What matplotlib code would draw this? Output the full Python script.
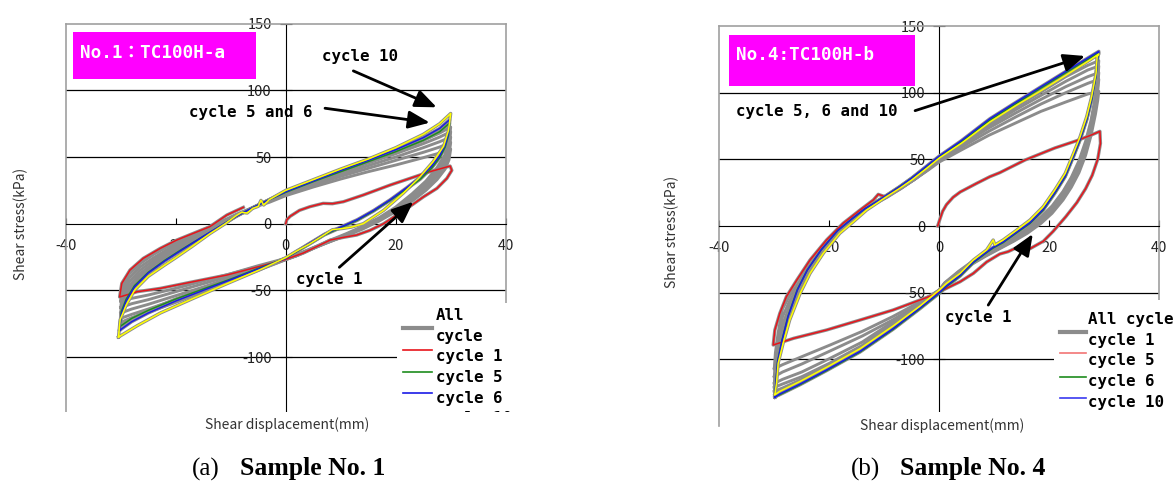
import matplotlib
matplotlib.use("Agg")
import matplotlib.pyplot as plt
from matplotlib.patches import Rectangle
from matplotlib.lines import Line2D

W, H = 1175, 483

# ---------------- (a) Sample No. 1 : TC100H-a ----------------
# gray "All cycle" loops share the same displacement stations
A_UP_X = [-30, -29.7, -28.5, -26.5, -24, -21, -18, -15, -12, -9, -6, -3, 0, 5, 10, 15, 20, 25, 28, 30]
A_LO_X = [30, 29.7, 29, 27.5, 25.5, 23, 20, 17, 14, 11, 8, 5, 2, 0, -5, -10, -15, -20, -25, -28, -30]
a_gray_up = [
    [-58, -48, -38, -30, -23, -16, -10, -4.5, 1, 7, 12, 16, 21, 27.5, 33.5, 39, 44, 49.5, 53, 56],
    [-63, -52, -41, -32.5, -25.5, -18, -11.5, -5.5, 0.5, 6.5, 12, 17, 22, 29, 35.5, 41.5, 47.5, 53.5, 57.5, 61],
    [-67, -55, -44, -35, -27.5, -19.5, -12.5, -6.5, 0, 6, 12, 17.5, 22.5, 30, 37, 43.5, 50, 57, 61.5, 65],
    [-71, -58.5, -47, -37.5, -29.5, -21, -14, -7.5, -0.5, 6, 12, 18, 23, 31, 38.5, 45.5, 52.5, 60, 65, 69],
    [-74, -61.5, -49.5, -39.5, -31, -22.5, -15, -8, -1, 5.5, 12, 18, 23.5, 31.5, 39.5, 47, 54.5, 62.5, 68, 72.5],
]
a_gray_lo = [
    [56, 48, 41, 33, 25, 17, 9, 2, -4, -9, -13.5, -18, -23, -26, -31.5, -37.5, -43, -48.5, -53.5, -56, -58],
    [61, 52, 44, 35.5, 27, 18.5, 10, 3, -3.5, -8.5, -13.5, -18.5, -23.5, -26.5, -32.5, -39, -45, -51, -57, -60, -63],
    [65, 55, 46.5, 37.5, 28.5, 19.5, 10.5, 3.5, -3, -8.5, -13.5, -18.5, -24, -26.5, -33.5, -40.5, -47.5, -54, -60.5, -64, -67],
    [69, 58.5, 49.5, 40, 30.5, 21, 11.5, 4, -2.5, -8, -13, -18.5, -24, -27, -34.5, -42, -49.5, -57, -64, -68, -71],
    [72.5, 61.5, 52, 42, 32, 22.5, 12.5, 4.5, -2, -7.5, -12.5, -18, -24, -27, -35, -43, -51, -59, -66.5, -70.5, -74],
]
a_c1_x = [0, 0.2, 0.8, 2.5, 4.4, 6.8, 8.5, 10.5, 14.1, 19, 22.6, 26.2, 29.9,
          30.2, 29.3, 27.5, 25, 22.6, 20.2, 17.8, 15.3, 12.9, 10.5, 8.1, 5.6, 3.2, 0, -4.7, -10.7, -16.8, -22.8, -27, -30.2,
          -29.8, -28.3, -25.9, -22.8, -19.8, -16.8, -13.8, -10.7, -7.7]
a_c1_y = [0, 3, 5.5, 10, 12.75, 15.25, 15, 16.5, 21.5, 29, 34, 39, 43.25,
          40, 34, 26.5, 20, 13, 6.5, 0, -5, -8.5, -10.25, -12.25, -17.25, -22, -26.75, -32, -38.5, -43.5, -48.5, -51, -55,
          -44.75, -34.75, -26, -18.5, -12.25, -7.25, -2.25, 6.5, 12.25]
a_c5_x = [-30.1, -29.9, -29, -27.5, -25, -22, -19, -15, -12, -9, -6, -3, 0, 5, 10, 15, 20, 25, 28, 29.8,
          29.6, 29, 28, 26.5, 24.5, 22, 19, 16, 13, 10, 7, 4, 0, -5, -10, -15, -20, -25, -28, -30.1]
a_c5_y = [-77, -66, -56.5, -46.5, -36.5, -27.5, -19.5, -9.5, -2, 5.5, 12, 18, 23.5, 31.5, 39, 46.5, 54, 62.5, 69, 75.5,
          66, 57.5, 49.5, 41.5, 33.5, 26, 17.5, 9.5, 2.5, -3, -8.5, -16, -26, -33.5, -41.5, -49, -56.5, -65, -71, -77]
a_c6_x = [-30.2, -29.9, -29, -27.5, -25, -22, -19, -15, -12, -9, -6, -3, 0, 5, 10, 15, 20, 25, 28, 29.8,
          29.6, 29, 28, 26.5, 24.5, 22, 19, 16, 13, 10, 7, 4, 0, -5, -10, -15, -20, -25, -28, -30.2]
a_c6_y = [-80, -68, -58, -47.5, -37, -28, -20, -9.5, -2, 5.5, 12, 18, 24, 32, 40, 47.5, 55.5, 64.5, 71.5, 78,
          68, 59, 51, 43, 35, 27, 18, 10, 3, -2.5, -8, -15.5, -26, -34, -42, -50, -58, -67, -73.5, -80]
a_c10_x = [-30.4, -30.1, -29, -27.5, -25, -22, -19.8, -17, -13.8, -11, -9, -8, -7, -6, -5, -4.5, -4, -3, -1.5, 0,
           5, 10, 15, 20, 25, 28, 30,
           29.6, 28.7, 26.8, 24.4, 21.4, 17.8, 14.1, 12, 10.5, 8.5, 7.5, 4.4, 2, 0, -4.7, -10.7, -16.8, -22.8, -27, -30.4]
a_c10_y = [-85, -72, -61, -50, -39.5, -31, -25, -17, -7.5, 0, 6, 8.5, 8, 11.5, 13, 17.5, 14, 18, 21.5, 25,
           33, 41, 48.5, 57, 67, 75, 82.7,
           70, 58, 46.5, 35, 23, 10, 0, -2.5, -3.5, -4.5, -7, -15, -20.5, -25.5, -34.5, -45, -56, -67, -76.5, -85]

# ---------------- (b) Sample No. 4 : TC100H-b ----------------
B_UP_X = [-30, -29.8, -29.3, -28.5, -27.3, -25.5, -23.5, -21, -18, -15, -12, -9.5, -7, -4.5, -2, 0, 4, 9, 14, 18.5, 23, 27, 29]
B_LO_X = [29, 28.8, 28.4, 27.6, 26.6, 25.4, 24, 22.5, 20.5, 18.5, 16, 13.5, 11, 8.5, 6, 3.5, 1, 0, -4, -8.5, -14, -20, -25, -28.5, -30]
b_gray_up = [
    [-107, -95, -80, -62, -53, -42, -27, -14, -2, 9, 17.5, 22.5, 28.5, 35, 42, 48, 57, 68, 77.5, 86, 93, 99, 101],
    [-113, -102, -87, -68, -57, -44, -29, -15.5, -2.5, 8.5, 17, 22.5, 28.5, 35, 42.5, 49, 59, 71, 82, 91.5, 100, 107, 110],
    [-118, -108, -93, -74, -61, -46, -31, -17, -3, 8, 16.5, 22, 28.5, 35, 42.5, 50, 60.5, 73.5, 85, 95, 104.5, 112, 115],
    [-121, -112, -98, -80, -65, -48, -33, -18.5, -3.5, 7.5, 16, 22, 28, 35, 43, 50.5, 61, 75, 87.5, 98, 108.5, 117, 120],
    [-124, -116, -102, -84, -68, -49, -34.5, -19.5, -4, 7, 16, 21.5, 28, 35, 43, 51, 62, 77, 89.5, 100.5, 112, 120.5, 124],
]
b_gray_lo = [
    [101, 94, 84, 68, 53, 40, 29, 19.5, 9.5, 2, -5.5, -11.5, -17, -22.5, -28.5, -35.5, -43, -48, -58, -68, -79, -89.5, -98, -104, -107],
    [110, 101, 89, 72, 56.5, 43, 31.5, 21.5, 11, 3, -4.5, -11, -16.5, -22, -28, -35, -43, -48.5, -59.5, -70.5, -82.5, -94, -103.5, -109.5, -113],
    [115, 105, 92, 74.5, 59, 45, 33, 23, 12.5, 4.5, -3.5, -10.5, -16, -21.5, -27.5, -35, -43, -48.5, -60, -72, -87, -99.5, -109.5, -115, -118],
    [120, 108, 95, 77, 61, 47, 35, 24.5, 13.5, 5.5, -3, -10, -15.5, -21, -27, -34.5, -43, -48.5, -60, -73, -89.5, -103, -113, -118.5, -121],
    [124, 112, 98, 79.5, 63.5, 49, 36.5, 26, 15, 7, -2, -9, -14.5, -20, -26.5, -34, -42.5, -48, -59.5, -73.5, -90.5, -104.5, -115, -121.5, -124],
]
b_c1_x = [-0.3, 0.1, 0.6, 1.3, 2.5, 3.8, 6.8, 9.2, 11, 15.6, 21, 25, 27.5, 29.2,
          29.3, 28.8, 27.8, 26.6, 25, 23, 20.7, 18.9, 16.5, 15.3, 13.8, 12.5, 11, 8.6, 6.2, 3.8, 1.3, -1.1, -3.5, -8.4,
          -14.4, -20.5, -26.5, -30.2,
          -29.9, -29, -27.8, -25.9, -23.5, -20.5, -17.5, -14.4, -12, -11.1, -9.9, -8.4, -7.2]
b_c1_y = [0, 5, 11, 16, 21.5, 25.5, 32, 37, 40, 49.5, 58.5, 64, 68, 71,
          62, 50, 38, 28, 17.5, 7, -4, -11.5, -17, -19.25, -16.75, -19.25, -21, -27, -35.5, -41.75, -46.75, -51.75, -55.5, -63,
          -70.5, -78, -84.25, -89.25,
          -78, -65.5, -53, -40.5, -25.5, -10.5, 2, 12, 19.5, 23.75, 22, 25.75, 28.25]
b_c56_x = [-29.9, -29.7, -29.4, -28.6, -27.5, -25.8, -24, -21.5, -18.5, -16, -13.5, -11.5, -9.6, -7.2, -5, -2.3, 0, 4,
           9.2, 14, 18.3, 23, 27.4, 29,
           28.8, 28.5, 27.7, 26.8, 25.6, 24.4, 22.9, 21, 18.9, 16.5, 14.1, 11.6, 9.8, 8.6, 6.2, 3.8, 1.3, 0, -3.5, -8.4,
           -14.4, -20.5, -25.3, -29, -29.9]
b_c5_y = [-128, -116.5, -101.5, -85.5, -67.5, -47.5, -33, -18, -3.5, 5, 13, 18, 23, 29.5, 36, 44.5, 52, 63,
          79.5, 92, 103, 115, 126, 130,
          126, 112.5, 94.5, 79.5, 64.5, 52, 37, 24.5, 12, 2, -5, -12.5, -16.5, -20, -27.5, -37.5, -45.5, -50.5, -62, -77.5,
          -94.5, -108.5, -119, -126.5, -128]
b_c6_y = [-128.5, -117, -102, -86, -68, -48, -33, -18, -3.5, 5, 13, 18, 23, 29.5, 36, 45, 52.5, 64,
          80.5, 93, 104, 116, 127, 131,
          127, 113, 95, 80, 65, 52.5, 37.5, 25, 12.5, 2.5, -4.5, -12, -16, -19.5, -27, -37, -45, -50, -61.5, -77,
          -94, -108, -118.5, -126, -128.5]
b_c10_x = [-29.9, -29.6, -29.3, -28.4, -27.2, -25.3, -23.5, -21.1, -18.1, -15.6, -13.2, -11.4, -9.6, -7.2, -5, -2.3, 0, 4,
           9.2, 14, 18.3, 23, 27.4, 29,
           28.7, 28.5, 27.7, 26.8, 25.6, 24.4, 22.9, 21, 18.9, 16.5, 14.1, 11.6, 10.1, 9.8, 8.6, 6.2, 3.8, 1.3, 0, -3.5,
           -8.4, -14.4, -20.5, -25.3, -29, -29.9]
b_c10_y = [-126.5, -118, -103, -88, -70.5, -50.5, -35.5, -20.5, -5.5, 3.25, 12, 17, 22, 28.25, 34.5, 43.25, 51, 62,
           78, 90.5, 101, 113, 124.5, 129,
           127, 114.5, 97, 82, 67, 54.5, 39.5, 27, 14.5, 4.5, -3, -10.5, -14.25, -10.5, -18, -25.5, -35.5, -43, -48, -60,
           -75, -92, -106, -116.5, -124, -126.5]

x_ticks = [-40, -20, 0, 20, 40]
y_ticks = [-100, -50, 0, 50, 100, 150]

GRAY = '#8c8c8c'
RED = '#e8141b'
GREEN = '#1e8c1e'
BLUE = '#1a1ae6'
YELLOW = '#ffff00'
FRAME = '#a0a0a0'
MONO = ['DejaVu Sans Mono', 'Noto Sans CJK JP']
LABEL_FONT = ['Noto Sans CJK JP', 'DejaVu Sans']


def fx(px):
    return px / W


def fy(py):
    return 1 - py / H


def setup(ax):
    ax.set_xlim(-40, 40)
    ax.set_ylim(-150, 150)
    ax.patch.set_alpha(0)
    for s in ['top', 'right']:
        ax.spines[s].set_color(FRAME)
        ax.spines[s].set_linewidth(1.2)
    ax.spines['left'].set_position(('data', 0))
    ax.spines['bottom'].set_position(('data', 0))
    ax.spines['left'].set_color('black')
    ax.spines['bottom'].set_color('black')
    ax.axvline(-40, color=FRAME, lw=1.2, clip_on=False)  # left edge of the plot area
    for v in [100, 50, -50, -100]:
        ax.axhline(v, color='black', lw=0.9, zorder=1)
    ax.set_xticks(x_ticks)
    ax.set_yticks(y_ticks)
    ax.set_xticklabels([str(t) for t in x_ticks])
    ax.set_yticklabels([str(t) for t in y_ticks])
    ax.tick_params(axis='y', direction='inout', length=8, pad=6, labelsize=10.5, labelcolor='#222222')
    ax.tick_params(axis='x', direction='in', length=4, pad=11, labelsize=10.5, labelcolor='#222222')
    for lab in ax.get_xticklabels() + ax.get_yticklabels():
        lab.set_family(LABEL_FONT)


def draw_loops(ax, up_x, lo_x, gray_up, gray_lo, colored):
    for yu, yl in zip(gray_up, gray_lo):
        ax.plot(up_x + lo_x, yu + yl, color=GRAY, lw=2.1, zorder=3, solid_joinstyle='round')
    for x, y, c in colored:
        ax.plot(x, y, color=GRAY, lw=2.4, zorder=3, solid_joinstyle='round')
    for x, y, c in colored:
        ax.plot(x, y, color=c, lw=1.1, zorder=4)


def arrow(ax, head, tail):
    ax.annotate('', xy=head, xytext=tail, zorder=6,
                arrowprops=dict(arrowstyle='-|>,head_length=0.65,head_width=0.27', color='black',
                                lw=2, shrinkA=0, shrinkB=0, mutation_scale=20))


def white(x0, y0, x1, y1, z=1):
    fig.patches.append(Rectangle((fx(x0), fy(y1)), (x1 - x0) / W, (y1 - y0) / H,
                                 transform=fig.transFigure, facecolor='white', edgecolor='none', zorder=z))


fig = plt.figure(figsize=(11.75, 4.83), dpi=100)

ax_a = fig.add_axes([fx(65.7), fy(423.7), 440 / W, 400 / H])
ax_b = fig.add_axes([fx(719.3), fy(426), 440 / W, 400 / H])
setup(ax_a)
setup(ax_b)

draw_loops(ax_a, A_UP_X, A_LO_X, a_gray_up, a_gray_lo,
           [(a_c1_x, a_c1_y, RED), (a_c5_x, a_c5_y, GREEN), (a_c6_x, a_c6_y, BLUE), (a_c10_x, a_c10_y, YELLOW)])
draw_loops(ax_b, B_UP_X, B_LO_X, b_gray_up, b_gray_lo,
           [(b_c1_x, b_c1_y, RED), (b_c56_x, b_c5_y, GREEN), (b_c56_x, b_c6_y, BLUE), (b_c10_x, b_c10_y, YELLOW)])

# annotations
ax_a.text(6.55, 125.3, 'cycle 10', family=MONO, fontweight='bold', fontsize=11.3, va='center', zorder=6)
arrow(ax_a, (27.45, 87.3), (12.3, 114.6))
ax_a.text(-17.6, 83.3, 'cycle 5 and 6', family=MONO, fontweight='bold', fontsize=11.3, va='center', zorder=6)
arrow(ax_a, (26.2, 75.8), (7.15, 86.6))
ax_a.text(1.87, -42.2, 'cycle 1', family=MONO, fontweight='bold', fontsize=11.3, va='center', zorder=6)
arrow(ax_a, (23.2, 16.5), (9.75, -32.7))

ax_b.text(-36.9, 85.7, 'cycle 5, 6 and 10', family=MONO, fontweight='bold', fontsize=11.3, va='center', zorder=6)
arrow(ax_b, (26.5, 127.5), (-4.4, 86.5))
ax_b.text(1.04, -68.5, 'cycle 1', family=MONO, fontweight='bold', fontsize=11.3, va='center', zorder=6)
arrow(ax_b, (17, -6), (8.9, -59.3))

# magenta title boxes
fig.patches.append(Rectangle((fx(73), fy(79)), (256 - 73) / W, (79 - 32) / H, transform=fig.transFigure,
                             facecolor='#ff00ff', edgecolor='none', zorder=1))
fig.patches.append(Rectangle((fx(729), fy(86.4)), (914.5 - 729) / W, (86.4 - 34.6) / H, transform=fig.transFigure,
                             facecolor='#ff00ff', edgecolor='none', zorder=1))
fig.text(fx(80), fy(53), 'No.1：TC100H-a', color='white', fontsize=12.7, fontweight='bold',
         family=MONO, va='center', zorder=2)
fig.text(fx(736), fy(55), 'No.4:TC100H-b', color='white', fontsize=12.7, fontweight='bold',
         family=MONO, va='center', zorder=2)

# white areas: bottom of the chart areas and legend boxes
white(0, 412, 397, 483)
white(397, 303, 530, 483)
white(725, 412, 1054, 483)
white(1054, 300, 1175, 483)

# legend (a)
for y, c, lw in [(328.3, GRAY, 3), (350, RED, 1.2), (371.7, GREEN, 1.2), (392.7, BLUE, 1.2)]:
    fig.add_artist(Line2D([fx(403), fx(432)], [fy(y), fy(y)], color=c, lw=lw, zorder=2))
for y, t in [(315, 'All'), (336, 'cycle'), (357, 'cycle 1'), (377.7, 'cycle 5'), (398.3, 'cycle 6'), (419, 'cycle 10')]:
    fig.text(fx(436), fy(y), t, family=MONO, fontweight='bold', fontsize=11.3, va='center', zorder=2)
white(397, 412, 530, 483, z=3)

# legend (b)
for y, c, lw in [(331.7, GRAY, 3), (353.3, '#f27474', 1.2), (376.7, GREEN, 1.2), (397.7, '#3a3af0', 1.2)]:
    fig.add_artist(Line2D([fx(1060), fx(1086)], [fy(y), fy(y)], color=c, lw=lw, zorder=2))
for y, t in [(319.3, 'All cycle'), (340, 'cycle 1'), (360.7, 'cycle 5'), (381.7, 'cycle 6'), (402.3, 'cycle 10')]:
    fig.text(fx(1088), fy(y), t, family=MONO, fontweight='bold', fontsize=11.3, va='center', zorder=2)

# axis titles
fig.text(fx(21), fy(224), 'Shear stress(kPa)', rotation=90, family=LABEL_FONT, fontsize=10, color='#333333',
         ha='center', va='center', zorder=4)
fig.text(fx(672), fy(232), 'Shear stress(kPa)', rotation=90, family=LABEL_FONT, fontsize=10, color='#333333',
         ha='center', va='center', zorder=4)
fig.text(fx(287), fy(425), 'Shear displacement(mm)', family=LABEL_FONT, fontsize=10, color='#333333',
         ha='center', va='center', zorder=4)
fig.text(fx(942), fy(426), 'Shear displacement(mm)', family=LABEL_FONT, fontsize=10, color='#333333',
         ha='center', va='center', zorder=4)

# captions
fig.text(fx(192), fy(469), '(a)', family='Liberation Serif', fontsize=18, va='center', zorder=4)
fig.text(fx(240), fy(469), 'Sample No. 1', family='Liberation Serif', fontweight='bold', fontsize=18.5,
         va='center', zorder=4)
fig.text(fx(851), fy(469), '(b)', family='Liberation Serif', fontsize=18, va='center', zorder=4)
fig.text(fx(900), fy(469), 'Sample No. 4', family='Liberation Serif', fontweight='bold', fontsize=18.5,
         va='center', zorder=4)

fig.savefig('out.png', dpi=100)
